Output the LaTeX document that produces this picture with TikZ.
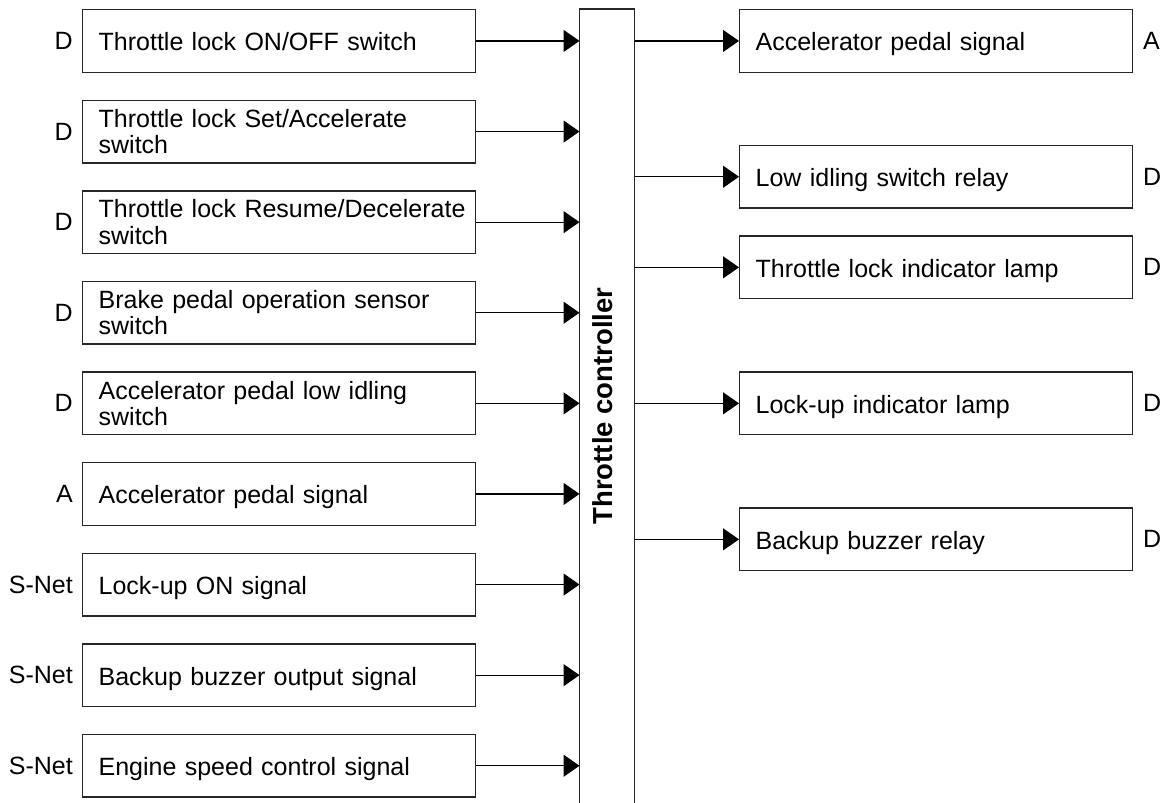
\documentclass[tikz,border=0pt]{standalone}
\usepackage{fontspec}
\setmainfont{Liberation Sans}
\usetikzlibrary{arrows.meta}
\begin{document}
\begin{tikzpicture}[x=1pt,y=-1pt,
  sigbox/.style={draw=black!85, line width=1.3pt, rectangle, anchor=north west,
    minimum width=392.5pt, minimum height=62.6pt, text width=360.5pt,
    inner xsep=16pt, inner ysep=0pt, align=left,
    font=\fontsize{25}{26.5}\selectfont},
  oneline/.style={text height=20pt, text depth=0pt},
  tag/.style={font=\fontsize{25}{26.5}\selectfont, inner sep=0pt},
  arr/.style={line width=1.2pt, -{Triangle[length=16pt,width=22pt]}}
]
\useasboundingbox (0,0) rectangle (1168,803);

% controller
\node[minimum width=54.8pt, minimum height=794pt, anchor=north west, inner sep=0pt] (ctrl) at (579.5,9) {};
\draw[line width=1.3pt, black!85] (ctrl.south west) -- (ctrl.north west) -- (ctrl.north east) -- (ctrl.south east);
\node[rotate=90, inner sep=0pt, font=\fontsize{27.5}{29}\selectfont\bfseries] (ctrltxt) at (603,406) {Throttle controller};

% left inputs
\node[sigbox, oneline] (L1) at (82,9) {Throttle lock ON/OFF switch};
\node[sigbox] (L2) at (82,99.6) {Throttle lock Set/Accelerate\\switch};
\node[sigbox] (L3) at (82,190.2) {\mbox{Throttle lock Resume/Decelerate}\\switch};
\node[sigbox] (L4) at (82,280.8) {Brake pedal operation sensor\\switch};
\node[sigbox] (L5) at (82,371.4) {Accelerator pedal low idling\\switch};
\node[sigbox, oneline] (L6) at (82,462) {Accelerator pedal signal};
\node[sigbox, oneline] (L7) at (82,552.6) {Lock-up ON signal};
\node[sigbox, oneline] (L8) at (82,643.2) {Backup buzzer output signal};
\node[sigbox, oneline] (L9) at (82,733.8) {Engine speed control signal};

\node[tag, anchor=east] (tL1) at ([xshift=-9pt]L1.west) {D};
\node[tag, anchor=east] (tL2) at ([xshift=-9pt]L2.west) {D};
\node[tag, anchor=east] (tL3) at ([xshift=-9pt]L3.west) {D};
\node[tag, anchor=east] (tL4) at ([xshift=-9pt]L4.west) {D};
\node[tag, anchor=east] (tL5) at ([xshift=-9pt]L5.west) {D};
\node[tag, anchor=east] (tL6) at ([xshift=-9pt]L6.west) {A};
\node[tag, anchor=east] (tL7) at ([xshift=-9pt]L7.west) {S-Net};
\node[tag, anchor=east] (tL8) at ([xshift=-9pt]L8.west) {S-Net};
\node[tag, anchor=east] (tL9) at ([xshift=-9pt]L9.west) {S-Net};

\foreach \i in {1,...,9}{
  \draw[arr] (L\i.east) -- (L\i.east -| ctrl.west);
}

% right outputs
\node[sigbox, oneline] (R1) at (739,9) {Accelerator pedal signal};
\node[sigbox, oneline] (R2) at (739,144.8) {Low idling switch relay};
\node[sigbox, oneline] (R3) at (739,235.4) {Throttle lock indicator lamp};
\node[sigbox, oneline] (R4) at (739,371.4) {Lock-up indicator lamp};
\node[sigbox, oneline] (R5) at (739,507.4) {Backup buzzer relay};

\node[tag, anchor=west] (tR1) at ([xshift=10pt]R1.east) {A};
\node[tag, anchor=west] (tR2) at ([xshift=10pt]R2.east) {D};
\node[tag, anchor=west] (tR3) at ([xshift=10pt]R3.east) {D};
\node[tag, anchor=west] (tR4) at ([xshift=10pt]R4.east) {D};
\node[tag, anchor=west] (tR5) at ([xshift=10pt]R5.east) {D};

\foreach \i in {1,...,5}{
  \draw[arr] (R\i.west -| ctrl.east) -- (R\i.west);
}
\end{tikzpicture}
\end{document}
